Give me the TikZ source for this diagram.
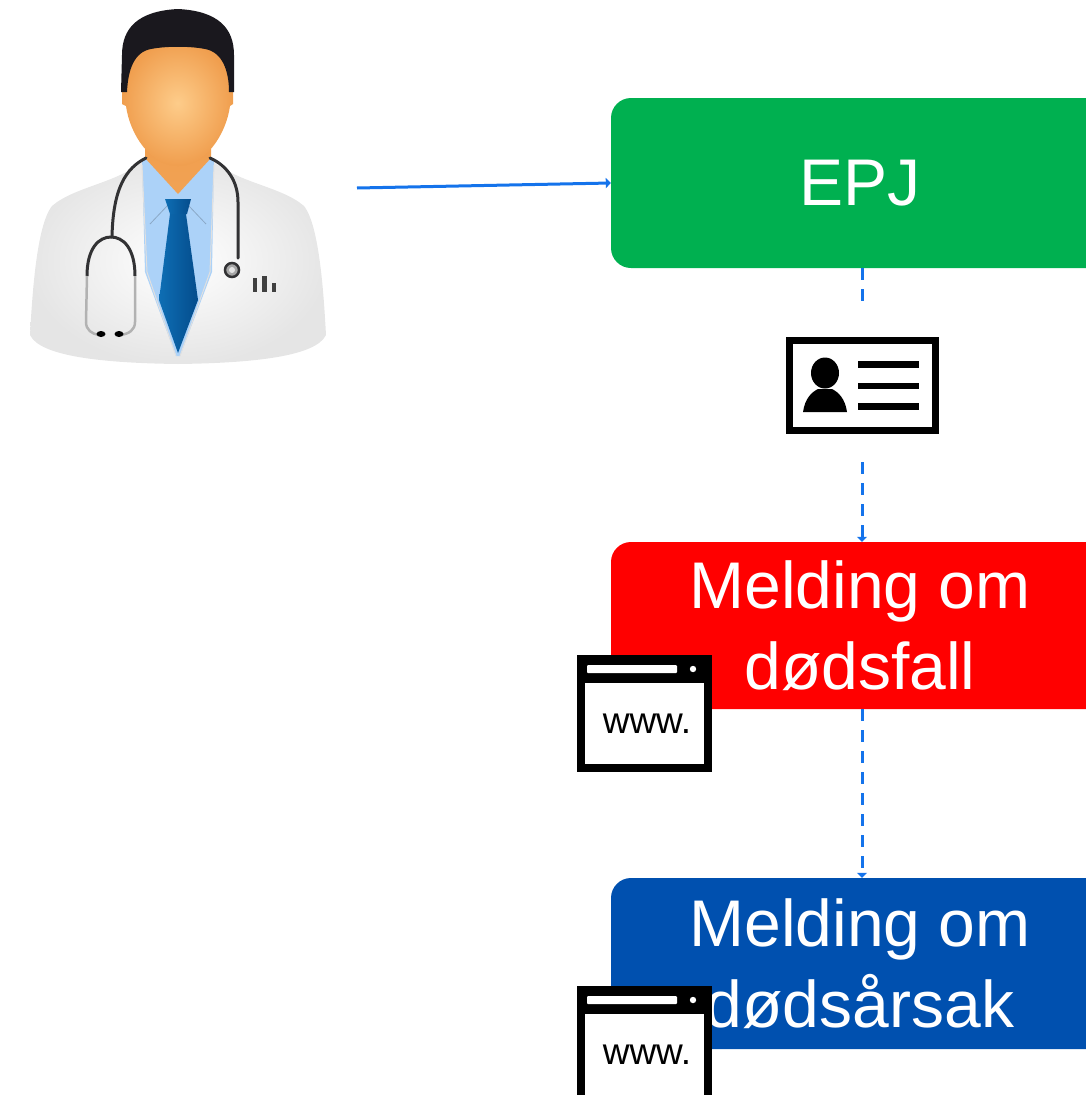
\documentclass[tikz,border=0pt]{standalone}
\usepackage{fontspec}
\setmainfont{Liberation Sans}
\usetikzlibrary{arrows.meta}
\definecolor{epjgreen}{RGB}{0,176,80}
\definecolor{msgred}{RGB}{255,0,0}
\definecolor{msgblue}{RGB}{0,80,175}
\definecolor{flow}{RGB}{20,115,235}
\definecolor{skinlight}{RGB}{253,204,138}
\definecolor{skindark}{RGB}{240,158,78}
\definecolor{hair}{RGB}{26,24,30}
\definecolor{shirt}{RGB}{172,210,248}
\definecolor{tiel}{RGB}{14,110,180}
\definecolor{tied}{RGB}{4,76,140}
\definecolor{steth}{RGB}{50,50,52}
\begin{document}
\begin{tikzpicture}[x=1pt,y=-1pt,
  msgbox/.style={rounded corners=20pt, text=white, align=center, inner sep=0pt,
    minimum width=498pt, font=\fontsize{66}{81}\selectfont},
  flowsolid/.style={draw=flow, line width=3pt, -{Triangle[length=5pt,width=10pt]}},
  flowdash/.style={draw=flow, line width=3pt, dash pattern=on 12pt off 9pt},
  flowtip/.style={-{Triangle[length=5pt,width=10pt]}},
  cardbox/.style={draw=black, fill=white, line width=7pt, minimum width=146pt,
    minimum height=90pt, inner sep=0pt},
  wwwicon/.pic={
    \fill[black] (0,0) rectangle (135,117);
    \fill[white] (8,28) rectangle (127,109);
    \fill[white, rounded corners=1pt] (10,10) rectangle (100,18);
    \fill[white] (116,14) circle (3.2);
    \node[font=\fontsize{37}{40}\selectfont, inner sep=0pt] at (70,69) {www.};
  }]
\useasboundingbox (0,0) rectangle (1086,1095);
\clip (0,0) rectangle (1086,1095);

% ---- boxes ----
\node[msgbox, fill=epjgreen, minimum height=170pt] (epj) at (860,183) {EPJ};
\node[msgbox, fill=msgred, minimum height=167pt] (red) at (860,625.5) {Melding om\\dødsfall};
\node[msgbox, fill=msgblue, minimum height=171pt] (blue) at (860,963.5) {Melding om\\dødsårsak};

% ---- contact card ----
\node[cardbox] (card) at (862,385.5) {};
\fill[black] (825,373) ellipse (14 and 15.5);
\fill[black] (803,412) .. controls (805,398) and (812,392) .. (818,389)
  -- (832,389) .. controls (838,392) and (845,398) .. (847,412) -- cycle;
\foreach \yy in {364.5,386,406.5}
  \draw[line width=6.5pt] (858,\yy) -- (919,\yy);

% ---- connectors ----
\coordinate (docout) at (357,188);
\draw[flowsolid] (docout) -- (epj.west);
\draw[flowdash, shorten >=32pt] (card |- epj.south) -- (card.north);
\draw[flowdash, flowtip, shorten <=28pt] (card.south) -- (card |- red.north);
\draw[flowdash, flowtip] (card |- red.south) -- (card |- blue.north);

% ---- web icons ----
\pic at (577,655) {wwwicon};
\pic at (577,986) {wwwicon};

% ---- doctor ----
% coat
\shade[inner color=white, outer color=black!10]
  (147,158) .. controls (120,183) and (75,186) .. (52,206)
  .. controls (36,226) and (32,300) .. (30,335)
  .. controls (40,356) and (100,363) .. (178,364)
  .. controls (256,363) and (316,356) .. (326,335)
  .. controls (324,300) and (320,226) .. (304,206)
  .. controls (281,186) and (236,183) .. (209,158) -- cycle;
% shirt
\fill[shirt] (142,160) -- (214,160) -- (212,272) -- (180,356) -- (176,356) -- (145,272) -- cycle;
\draw[black!12, line width=1pt] (142,165) -- (147,272) -- (176,356);
\draw[black!12, line width=1pt] (214,165) -- (210,272) -- (180,356);
\draw[shirt!80!black, line width=0.8pt] (168,205) -- (150,224);
\draw[shirt!80!black, line width=0.8pt] (188,205) -- (206,224);
% neck
\shade[top color=skindark, bottom color=skindark!90!skinlight]
  (145,140) -- (211,140) -- (211,158) -- (178,194) -- (145,158) -- cycle;
% face
\shade[inner color=skinlight, outer color=skindark]
  (128,72) .. controls (128,45) and (150,40) .. (178,40)
  .. controls (206,40) and (229,45) .. (229,72)
  -- (233,88) -- (233,104) -- (230,106)
  .. controls (226,135) and (205,166) .. (178,166)
  .. controls (151,166) and (130,135) .. (126,106)
  -- (122,104) -- (122,88) -- cycle;
% hair
\fill[hair] (121,92) -- (122,55) .. controls (122,28) and (138,11) .. (178,9)
  .. controls (218,11) and (234,28) .. (234,55) -- (234,92) -- (229,92)
  .. controls (229,70) and (222,52) .. (205,49)
  .. controls (190,46) and (166,46) .. (151,49)
  .. controls (134,52) and (128,70) .. (127,92) -- cycle;
% tie
\shade[left color=tiel, right color=tied]
  (165,199) -- (191,199) -- (187,214) -- (170,214) -- cycle;
\shade[left color=tiel, right color=tied]
  (170,214) -- (186,214) -- (198,300) -- (178,353) -- (159,300) -- cycle;
% stethoscope
\draw[steth, line width=3pt, line cap=round]
  (146,158) .. controls (126,168) and (113,188) .. (112,237);
\draw[steth, line width=3pt]
  (87,276) .. controls (87,248) and (99,237) .. (111,237)
  .. controls (123,237) and (135,248) .. (135,276);
\draw[black!30, line width=2.5pt]
  (87,276) -- (86,322) .. controls (86,330) and (92,334) .. (99,335);
\draw[black!30, line width=2.5pt]
  (135,276) -- (135,322) .. controls (135,330) and (129,334) .. (120,335);
\fill[black] (101,334) ellipse (4.5 and 3);
\fill[black] (119,334) ellipse (4.5 and 3);
\draw[steth, line width=3pt, line cap=round]
  (210,158) .. controls (228,166) and (238,182) .. (238,202) -- (238,258);
\draw[steth, line width=2.5pt, fill=black!35] (232,270) circle (7);
\fill[black!10] (232,270) circle (3);
% pocket pens
\fill[black!75] (253,278) rectangle (257,292);
\fill[black!75] (262,276) rectangle (267,292);
\fill[black!75] (272,283) rectangle (276,292);
\end{tikzpicture}
\end{document}
